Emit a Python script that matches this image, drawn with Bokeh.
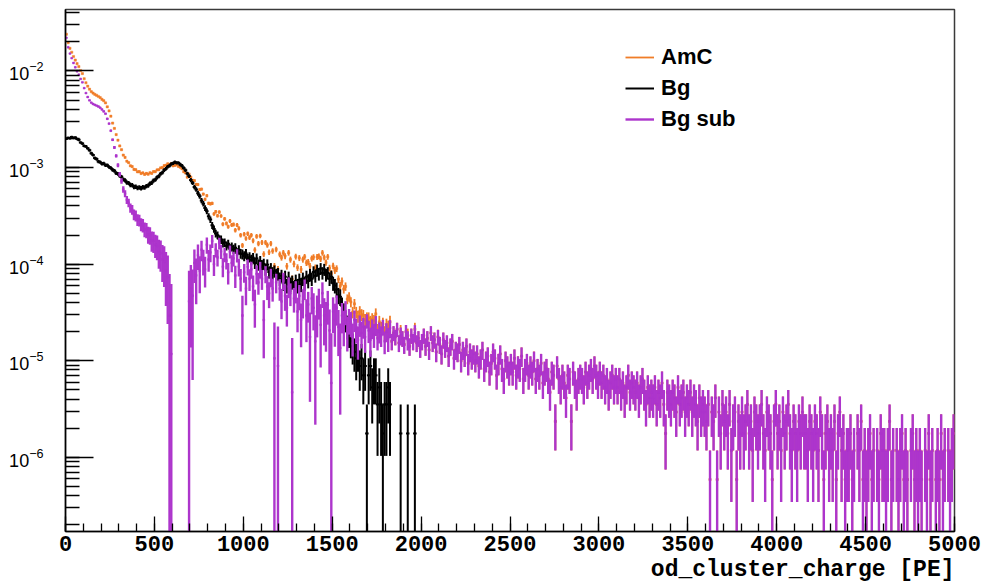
import numpy as np
from bokeh.plotting import figure
from bokeh.models import (Range1d, SingleIntervalTicker, LogTicker, Legend,
                          LegendItem, Title)
from bokeh.embed import file_html
from bokeh.resources import INLINE

# ---------------- data ----------------
X_MIN, X_MAX = 0, 5000
BIN_WIDTH = 10
Y_MIN, Y_MAX = 1.70e-7, 4.33e-2
COUNT_UNIT = 5.87e-7      # y value of one AmC entry
BG_WEIGHT = 3             # one Bg entry weighs three AmC entries

series_names = ["AmC", "Bg", "Bg sub"]
series_colors = ["#f07d28", "#000000", "#ad35cc"]
x_tick_step = 500
x_axis_title = "od_cluster_charge [PE]"

# Bg entries per 10 PE bin (0 .. 2000 PE, zero above)
bg_counts = [
    1128, 1152, 1139, 1176, 1149, 1160, 1121, 1098, 1033, 1006,
    951, 938, 897, 858, 799, 767, 712, 694, 655, 645,
    621, 626, 601, 600, 574, 563, 538, 525, 496, 489,
    466, 455, 427, 418, 397, 393, 375, 373, 358, 359,
    349, 353, 346, 356, 352, 365, 369, 388, 395, 416,
    424, 449, 462, 489, 504, 534, 551, 579, 592, 618,
    627, 644, 636, 634, 611, 594, 561, 533, 492, 463,
    421, 393, 357, 337, 308, 287, 259, 240, 216, 200,
    178, 164, 143, 131, 118, 113, 103, 102, 94, 95,
    88, 92, 82, 86, 81, 84, 74, 80, 73, 72,
    69, 73, 64, 67, 63, 66, 58, 65, 56, 61,
    55, 57, 50, 56, 47, 51, 46, 48, 44, 45,
    40, 43, 36, 42, 34, 41, 35, 37, 32, 38,
    34, 39, 35, 40, 36, 42, 38, 44, 40, 47,
    43, 49, 45, 51, 46, 50, 44, 46, 40, 42,
    36, 34, 31, 27, 26, 21, 18, 15, 13, 11,
    9, 8, 7, 6, 7, 5, 6, 4, 5, 1,
    4, 5, 3, 4, 4, 2, 3, 2, 1, 2,
    2, 3, 2, 0, 0, 0, 0, 0, 1, 0,
    0, 0, 1, 0, 0, 0, 1, 0, 0, 0,
]

# background-subtracted entries (AmC - 3*Bg) per 10 PE bin, 0 .. 5000 PE
bgsub_counts = [
    37500, 30000, 25800, 23100, 20600, 18600, 16900, 15600, 14100, 13000,
    11300, 10050, 9150, 8450, 8000, 7750, 7600, 7450, 7300, 7100,
    6800, 6500, 6150, 5450, 4850, 4100, 3300, 2750, 2250, 1800,
    1450, 1240, 1010, 915, 790, 735, 650, 625, 555, 540,
    490, 485, 440, 430, 390, 385, 345, 340, 300, 295,
    270, 262, 228, 220, 190, 180, 145, 125, 50, 20,
    -110, -135, -100, -150, -115, -125, -140, -105, -120, 70,
    95, 80, 175, 130, 210, 145, 240, 185, 150, 270,
    190, 225, 295, 170, 240, 200, 280, 230, 160, 215,
    185, 140, 230, 175, 195, 130, 210, 160, 120, 50,
    140, 95, 160, 120, 150, 100, 65, 135, 110, 150,
    120, 45, 135, 100, 85, 125, 95, 18, 110, 15,
    95, 70, 115, 80, 60, 100, 85, 8, 75, 90,
    55, 80, 45, 70, 95, 50, 65, 30, 75, 60,
    27, 55, 70, 40, 85, 50, 45, 65, 35, 10,
    55, 45, 60, 38, 23, 50, 40, 55, 35, 45,
    42, 30, 45, 36, 28, 40, 33, 38, 30, 44,
    35, 28, 37, 32, 40, 29, 34, 31, 38, 27,
    34, 29, 37, 27, 33, 30, 36, 26, 31, 29,
    25, 34, 28, 24, 31, 27, 33, 26, 29, 23,
    27, 31, 24, 29, 22, 33, 26, 28, 21, 30,
    25, 20, 28, 23, 26, 19, 24, 27, 18, 22,
    21, 25, 17, 22, 19, 24, 16, 21, 18, 20,
    17, 20, 15, 18, 22, 14, 17, 19, 13, 16,
    21, 18, 12, 16, 20, 14, 11, 17, 15, 13,
    16, 13, 18, 12, 15, 14, 19, 11, 14, 16,
    12, 15, 13, 17, 11, 14, 12, 16, 10, 13,
    14, 11, 8, 13, 12, 4, 15, 11, 9, 12,
    10, 7, 12, 11, 4, 13, 10, 8, 11, 12,
    11, 9, 13, 10, 12, 14, 11, 15, 12, 10,
    13, 10, 12, 9, 11, 8, 10, 12, 9, 11,
    9, 11, 8, 10, 7, 9, 12, 8, 10, 9,
    8, 10, 7, 9, 11, 8, 6, 9, 7, 8,
    7, 9, 6, 8, 7, 10, 6, 3, 8, 7,
    6, 8, 7, 5, 9, 6, 7, 8, 5, 7,
    6, 8, 5, 7, 6, 4, 7, 5, 6, 5,
    4, 6, 1, 5, 4, 7, 1, 5, 3, 6,
    4, 5, 3, 6, 2, 4, 5, 1, 4, 3,
    5, 3, 4, 6, 3, 4, 2, 5, 4, 3,
    4, 6, 3, 2, 5, 4, 3, 1, 4, 6,
    3, 4, 2, 5, 3, 4, 6, 3, 2, 4,
    3, 2, 4, 3, 5, 3, 3, 2, 4, 3,
    2, 4, 3, 2, 5, 3, 1, 3, 4, 2,
    3, 2, 4, 1, 3, 5, 2, 3, 1, 2,
    2, 3, 1, 2, 0, 3, 2, 4, 1, 2,
    1, 2, 3, 1, 2, 0, 2, 1, 3, 2,
    2, 1, 2, 4, 1, 2, 0, 2, 1, 2,
    3, 1, 2, 1, 0, 2, 3, 1, 2, 1,
    2, 1, 0, 2, 1, 3, 1, 2, 0, 1,
    2, 1, 3, 1, 2, 0, 2, 1, 2, 3,
]

# ---------------- derived histograms ----------------
n_bins = (X_MAX - X_MIN) // BIN_WIDTH
centers = X_MIN + BIN_WIDTH * (np.arange(n_bins) + 0.5)
B = np.zeros(n_bins)
B[:len(bg_counts)] = bg_counts
D = np.zeros(n_bins)
D[:len(bgsub_counts)] = bgsub_counts[:n_bins]
A = BG_WEIGHT * B + D

amc_y = A * COUNT_UNIT
amc_e = np.sqrt(np.clip(A, 0, None)) * COUNT_UNIT
bg_y = BG_WEIGHT * B * COUNT_UNIT
bg_e = BG_WEIGHT * np.sqrt(B) * COUNT_UNIT
sub_y = D * COUNT_UNIT
sub_e = np.sqrt(np.clip(A, 0, None) + BG_WEIGHT ** 2 * B) * COUNT_UNIT

# ---------------- figure ----------------
p = figure(width=983, height=583, y_axis_type="log",
           x_range=Range1d(X_MIN, X_MAX), y_range=Range1d(Y_MIN, Y_MAX),
           output_backend="svg", toolbar_location=None)
p.min_border_left = 65
p.min_border_right = 29
p.min_border_top = 9
p.min_border_bottom = 52
p.background_fill_color = "white"
p.border_fill_color = "white"
p.outline_line_color = "#3a3a3a"
p.outline_line_width = 1.5
p.xgrid.visible = False
p.ygrid.visible = False

FLOOR = 1e-10


def draw(y, e, color, lw, marker, msize, mlw):
    hi = y + e
    keep = (e > 0) & (hi > 0)
    lo = np.where(y - e > 0, y - e, FLOOR)
    r = p.segment(x0=centers[keep], y0=lo[keep], x1=centers[keep], y1=hi[keep],
                  line_color=color, line_width=lw)
    m = y > 0
    p.scatter(centers[m], y[m], marker=marker, size=msize,
              fill_color=color, line_color=color, line_width=mlw)
    return r


r_amc = draw(amc_y, amc_e, series_colors[0], 1.8, "square", 2.2, 0.5)
r_bg = draw(bg_y, bg_e, series_colors[1], 2.0, "dash", 3.5, 2.0)
r_sub = draw(sub_y, sub_e, series_colors[2], 2.4, "square", 1.8, 0.5)

# axes
xa = p.xaxis[0]
xa.ticker = SingleIntervalTicker(interval=x_tick_step, num_minor_ticks=5)
xa.major_tick_in = 15
xa.major_tick_out = 0
xa.minor_tick_in = 8
xa.minor_tick_out = 0
xa.axis_line_width = 1.5
xa.major_tick_line_width = 1.3
xa.minor_tick_line_width = 1.3
xa.major_label_text_font = "Liberation Mono"
xa.major_label_text_font_style = "bold"
xa.major_label_text_font_size = "22px"
xa.major_label_text_color = "black"
xa.major_label_standoff = 4

ya = p.yaxis[0]
ya.ticker = LogTicker(num_minor_ticks=10, mantissas=[1])
ya.major_tick_in = 28
ya.major_tick_out = 0
ya.minor_tick_in = 14
ya.minor_tick_out = 0
ya.axis_line_width = 1.5
ya.major_tick_line_width = 1.3
ya.minor_tick_line_width = 1.3
ya.major_label_text_font = "Liberation Sans"
ya.major_label_text_font_size = "18px"
ya.major_label_text_color = "black"
ya.major_label_standoff = 22

# x-axis title, right-aligned under the end of the axis
axis_title = Title(text=x_axis_title, align="right",
                   text_font="Liberation Mono", text_font_style="bold",
                   text_font_size="23px", text_color="black",
                   standoff=2, offset=0)
p.add_layout(axis_title, "below")

# legend
items = [LegendItem(label=n, renderers=[r])
         for n, r in zip(series_names, [r_amc, r_bg, r_sub])]
legend = Legend(items=items, location=(560, 399))
legend.border_line_color = None
legend.background_fill_alpha = 0
legend.label_text_font = "Liberation Sans"
legend.label_text_font_style = "bold"
legend.label_text_font_size = "22px"
legend.label_text_color = "black"
legend.glyph_width = 29
legend.glyph_height = 22
legend.label_height = 22
legend.label_standoff = 7
legend.spacing = 5
legend.padding = 10
legend.margin = 0
p.add_layout(legend)

open("out.html", "w").write(file_html(p, INLINE))
